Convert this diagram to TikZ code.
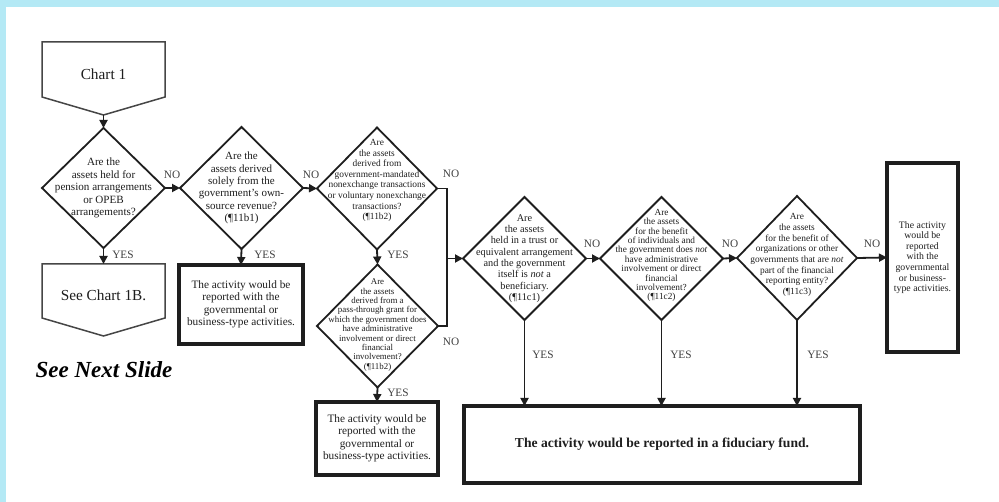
\documentclass[tikz,border=0pt]{standalone}
\usepackage{fontspec}
\setmainfont{Liberation Serif}
\usetikzlibrary{shapes.geometric,arrows.meta}
\definecolor{frameblue}{RGB}{180,233,245}
\definecolor{ink}{RGB}{30,30,30}
\definecolor{penline}{RGB}{70,70,70}
\newcommand{\fsz}[2]{\fontsize{#1}{#2}\selectfont}

\begin{document}
\begin{tikzpicture}[x=1pt,y=-1pt,
  dia/.style 2 args={draw=ink, diamond, line width=1.8pt, inner sep=0pt, outer sep=0pt,
    minimum width=#1, minimum height=#2},
  dtext/.style={align=center, text=ink, inner sep=0pt},
  thickbox/.style={draw=ink, line width=3.2pt, inner sep=0pt, outer sep=0pt, align=center, text=ink},
  pent/.style={draw=penline, line width=1.5pt, line join=miter},
  wire/.style={draw=ink, line width=1.8pt},
  conn/.style={draw=ink, line width=1.8pt, -{Triangle[length=8pt,width=8pt]}},
  lab/.style={font=\fsz{11.3}{12}, text=ink!85, inner sep=0pt}
]
% page and frame
\useasboundingbox (0,0) rectangle (999,502);
\fill[white] (0,0) rectangle (999,502);
\fill[frameblue] (0,0) rectangle (999,7);
\fill[frameblue] (0,0) rectangle (6,502);

% off-page connectors
\draw[pent] (42,42) -- (165,42) -- (165,97) -- (103.5,115) -- (42,97) -- cycle;
\node[inner sep=0pt, font=\fsz{15.3}{16}, text=ink] (c1) at (103.5,74) {Chart 1};
\coordinate (c1tip) at (103.5,115);

\draw[pent] (42,264) -- (165,264) -- (165,318) -- (103.5,336) -- (42,318) -- cycle;
\node[inner sep=0pt, font=\fsz{15.3}{16}, text=ink] (c1b) at (103.5,295) {See Chart 1B.};
\coordinate (c1btop) at (103.5,264);

\node[inner sep=0pt, font=\bfseries\itshape\fsz{23}{24}] (next) at (104,370) {See Next Slide};

% decision diamonds
\node[dia={123pt}{120pt}, label={[dtext,font=\fsz{11.1}{12.5}]center:{Are the\\assets held for\\pension arrangements\\or OPEB\\arrangements?}}] (d1) at (103.5,188) {};

\node[dia={123pt}{122pt}, label={[dtext,font=\fsz{11}{12.3}]center:{Are the\\assets derived\\solely from the\\government's own-\\source revenue?\\(¶11b1)}}] (d2) at (241.5,188) {};

\node[dia={120pt}{122pt}, label={[dtext,yshift=8pt,font=\fsz{9.4}{10.6}]center:{Are\\the assets\\derived from\\government-mandated\\nonexchange transactions\\or voluntary nonexchange\\transactions?\\(¶11b2)}}] (d3) at (377,188.5) {};

\node[dia={121pt}{123pt}, label={[dtext,yshift=1pt,font=\fsz{8.9}{9.4}]center:{Are\\the assets\\derived from a\\pass-through grant for\\which the government does\\have administrative\\involvement or direct\\financial\\involvement?\\(¶11b2)}}] (d3b) at (377.5,326) {};

\node[dia={123pt}{123pt}, label={[dtext,font=\fsz{10.3}{11.3}]center:{Are\\the assets\\held in a trust or\\equivalent arrangement\\and the government\\itself is \textit{not} a\\beneficiary.\\(¶11c1)}}] (d4) at (524.5,258.5) {};

\node[dia={123pt}{123pt}, label={[dtext,yshift=3pt,font=\fsz{9.3}{9.4}]center:{Are\\the assets\\for the benefit\\of individuals and\\the government does \textit{not}\\have administrative\\involvement or direct\\financial\\involvement?\\(¶11c2)}}] (d5) at (661.5,258.5) {};

\node[dia={120pt}{124pt}, label={[dtext,yshift=3pt,font=\fsz{9.4}{10.7}]center:{Are\\the assets\\for the benefit of\\organizations or other\\governments that are \textit{not}\\part of the financial\\reporting entity?\\(¶11c3)}}] (d6) at (797,258) {};

% outcome boxes
\node[thickbox, minimum width=124pt, minimum height=79pt, font=\fsz{11.3}{12.4}] (b2) at (241,304.5)
  {The activity would be\\reported with the\\governmental or\\business-type activities.};
\node[thickbox, minimum width=122pt, minimum height=73pt, font=\fsz{11.3}{12.5}] (b3) at (377,438.5)
  {The activity would be\\reported with the\\governmental or\\business-type activities.};
\node[thickbox, minimum width=71pt, minimum height=189pt, font=\fsz{9.8}{10.6}] (bR) at (922.5,257.5)
  {The activity\\would be\\reported\\with the\\governmental\\or business-\\type activities.};
\node[thickbox, minimum width=396pt, minimum height=77pt, font=\bfseries\fsz{13.6}{15}] (fid) at (662,444.5)
  {The activity would be reported in a fiduciary fund.};

% connectors
\draw[conn] (c1tip) -- (d1.north);
\draw[conn] (d1.east) -- (d2.west);
\draw[conn] (d2.east) -- (d3.west);
\draw[conn] (d1.south) -- (c1btop);
\draw[conn] (d2.south) -- (b2.north);
\draw[conn] (d3.south) -- (d3b.north);
\draw[conn] (d3b.south) -- (b3.north);
\coordinate (jx) at (447,258.5);
\draw[wire] (d3.east) -| (jx);
\draw[wire] (d3b.east) -| (jx);
\draw[conn] (jx) -- (d4.west);
\draw[conn] (d4.east) -- (d5.west);
\draw[conn] (d5.east) -- (d6.west);
\draw[conn] (d6.east) -- (bR.west);
\draw[conn] (d4.south) -- (d4.south |- fid.north);
\draw[conn] (d5.south) -- (d5.south |- fid.north);
\draw[conn] (d6.south) -- (d6.south |- fid.north);

% branch labels
\node[lab] (n1) at (172,175) {NO};
\node[lab] (n2) at (311,175) {NO};
\node[lab] (n3) at (451,174) {NO};
\node[lab] (n4) at (451,342) {NO};
\node[lab] (n5) at (592,244) {NO};
\node[lab] (n6) at (730,244) {NO};
\node[lab] (n7) at (872,244) {NO};
\node[lab] (y1) at (123,255) {YES};
\node[lab] (y2) at (265,255) {YES};
\node[lab] (y3) at (398,255) {YES};
\node[lab] (y4) at (398,393) {YES};
\node[lab] (y5) at (543,355) {YES};
\node[lab] (y6) at (681,355) {YES};
\node[lab] (y7) at (818,355) {YES};
\end{tikzpicture}
\end{document}
